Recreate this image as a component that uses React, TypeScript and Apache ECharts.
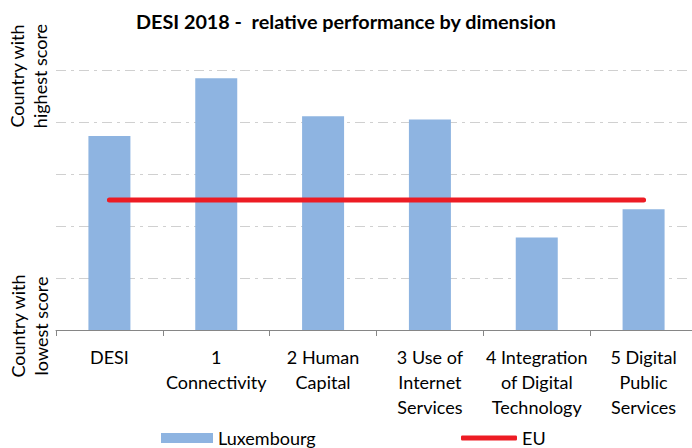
import React, { useEffect, useRef } from "react";
import * as echarts from "echarts";

const categories = [
  "DESI",
  "1\nConnectivity",
  "2 Human\nCapital",
  "3 Use of\nInternet\nServices",
  "4 Integration\nof Digital\nTechnology",
  "5 Digital\nPublic\nServices",
];
const luxembourg = [3.73, 4.84, 4.11, 4.05, 1.78, 2.32];
const eu = [2.5, 2.5, 2.5, 2.5, 2.5, 2.5];
const yTop = "Country with\nhighest score";
const yBottom = "Country with\nlowest score";

const FONT = "Lato, 'Noto Sans', sans-serif";

export default function App() {
  const ref = useRef<HTMLDivElement>(null);
  useEffect(() => {
    if (!ref.current) return;
    const chart = echarts.init(ref.current, null, { renderer: "svg" });
    chart.setOption({
      animation: false,
      backgroundColor: "#ffffff",
      textStyle: { fontFamily: FONT },
      title: {
        text: "DESI 2018 -  relative performance by dimension",
        left: "center",
        top: 6,
        textStyle: { fontSize: 19.8, fontWeight: "bold", color: "#000", fontFamily: FONT },
      },
      grid: {
        left: 56,
        top: 70,
        width: 641,
        height: 260,
        outerBoundsMode: "none",
        containLabel: false,
      },
      legend: [
        {
          data: ["Luxembourg"],
          left: 161,
          top: 429,
          padding: 0,
          icon: "rect",
          itemWidth: 52,
          itemHeight: 10,
          itemGap: 5,
          textStyle: { fontSize: 18, color: "#000", fontFamily: FONT },
        },
        {
          data: ["EU"],
          left: 461,
          top: 429,
          padding: 0,
          icon: "roundRect",
          itemWidth: 56,
          itemHeight: 5,
          textStyle: { fontSize: 18, color: "#000", fontFamily: FONT },
        },
      ],
      xAxis: {
        type: "category",
        data: categories,
        axisLine: { lineStyle: { color: "#868686", width: 1 } },
        axisTick: { show: true, length: 6, lineStyle: { color: "#868686" } },
        axisLabel: {
          interval: 0,
          fontSize: 18,
          lineHeight: 25,
          color: "#000",
          margin: 14,
          fontFamily: FONT,
        },
      },
      yAxis: {
        type: "value",
        min: 0,
        max: 5,
        interval: 1,
        axisLine: { show: false },
        axisTick: { show: false },
        axisLabel: { show: false },
        splitLine: {
          lineStyle: { color: "#D0D0D0", width: 1, type: [10, 5, 3, 5] },
        },
      },
      graphic: [
        {
          type: "text",
          x: 28,
          y: 76,
          rotation: Math.PI / 2,
          style: {
            text: yTop,
            fontSize: 18,
            lineHeight: 23,
            fill: "#000",
            align: "center",
            verticalAlign: "middle",
            fontFamily: FONT,
          },
        },
        {
          type: "text",
          x: 29,
          y: 326,
          rotation: Math.PI / 2,
          style: {
            text: yBottom,
            fontSize: 18,
            lineHeight: 23,
            fill: "#000",
            align: "center",
            verticalAlign: "middle",
            fontFamily: FONT,
          },
        },
      ],
      series: [
        {
          name: "Luxembourg",
          type: "bar",
          data: luxembourg,
          barWidth: 42,
          itemStyle: { color: "#8EB4E1" },
        },
        {
          name: "EU",
          type: "line",
          data: eu,
          symbol: "none",
          lineStyle: { color: "#ED1C24", width: 5, cap: "round" },
          itemStyle: { color: "#ED1C24" },
        },
      ],
    });
    return () => chart.dispose();
  }, []);
  return (
    <div
      ref={ref}
      style={{ position: "absolute", left: 0, top: 0, width: 692, height: 448 }}
    />
  );
}
